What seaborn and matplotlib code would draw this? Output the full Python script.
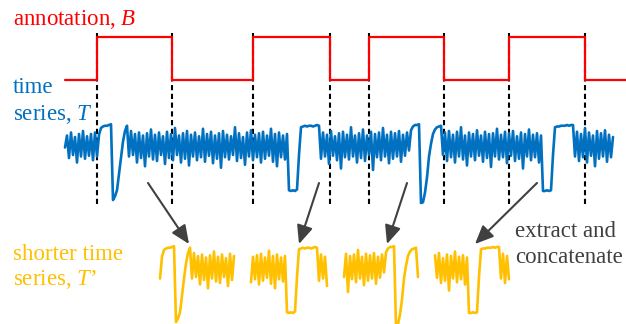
import numpy as np
import pandas as pd
import matplotlib
matplotlib.use('Agg')
import seaborn as sns
from matplotlib import pyplot as plt

sns.set_theme(style='white')
# serif text like the original, italic symbols through mathtext
plt.rcParams['font.family'] = 'serif'
plt.rcParams['font.serif'] = ['Liberation Serif', 'DejaVu Serif']
plt.rcParams['mathtext.fontset'] = 'custom'
plt.rcParams['mathtext.rm'] = 'Liberation Serif'
plt.rcParams['mathtext.it'] = 'Liberation Serif:italic'

# annotation B: change points (sample index) and the level from there on
B_time = [0, 16, 53.5, 94, 132.5, 152, 189.5, 222, 260, 281]
B_level = [0, 1, 0, 1, 0, 1, 0, 1, 0, 0]

# time series T, one value per sample
T_values = [
    70, 86, 56, 90, 60, 84, 50, 88, 58, 92, 55, 85, 59, 88, 53, 90, 58, 87,
    96, 98, 99, 99, 100, 101,
    0, 5, 13, 35, 58, 78, 92, 99,
    58, 92, 60, 88, 50, 90, 56, 86, 45, 89, 58, 94, 54, 87, 52, 90, 60, 85, 48, 91,
    56, 88, 53, 96, 60, 86, 50, 89, 55, 92, 46, 87, 58, 90, 53, 85, 57, 95, 51, 88,
    59, 91, 49, 86, 55, 89, 43, 92, 57, 87, 54, 85, 60, 97, 52, 89, 56, 84, 47, 90,
    58, 93, 53, 87, 57, 89, 50, 91, 55, 86, 59, 95, 51, 88, 45, 90, 57, 86, 54, 88,
    13, 12, 13, 12, 14,
    60, 97,
    98, 99, 98, 99, 99, 98, 99, 100, 99,
    55, 90, 58, 87, 48, 92, 59, 85, 53, 89, 42, 91, 57, 87, 54, 97, 58, 86, 50, 89,
    56, 94, 52, 86, 60, 91, 40, 88, 57, 90, 53, 96, 58, 87, 49, 91, 55, 89, 58, 92,
    51, 87, 59, 90, 66, 93,
    98, 100, 100, 101,
    -4, -3,
    10, 30, 58, 75, 88, 94, 97, 98, 99,
    60, 90, 52, 92, 57, 87, 50, 91, 58, 97, 54, 86, 46, 90, 58, 88, 53, 93, 59, 86,
    51, 91, 56, 88, 44, 89, 58, 95, 54, 87, 57, 91, 49, 89, 59, 92, 52, 85, 55, 90,
    42, 88, 58, 94, 53, 87, 57, 89, 50, 86,
    12, 12, 13, 12, 13,
    60, 97,
    98, 98, 99, 99, 99, 100, 99, 100, 100,
    58, 91, 52, 88, 57, 96, 50, 90, 59, 86, 45, 92, 55, 89, 58, 93, 51, 87, 57, 84,
]

gap = 7.5  # samples left empty between the extracted pieces of T'

red = '#FF0000'
blue = '#0070C0'
gold = '#FFC000'
grey = '#404040'

W, H = 626, 324


def lims(v0, p0, v1, p1, size, flip=False):
    # axis limits so that value v0 lands on pixel p0 and v1 on pixel p1
    k = (v1 - v0) / (p1 - p0)
    a, b = v0 + k * (0 - p0), v0 + k * (size - p0)
    return (b, a) if flip else (a, b)


def fig_xy(x, y):
    return x / W, 1 - y / H


fig = plt.figure(figsize=(W / 100, H / 100), dpi=100)
ax_T = fig.add_axes([0, 0, 1, 1])
ax_B = fig.add_axes([0, 0, 1, 1], sharex=ax_T)
ax_P = fig.add_axes([0, 0, 1, 1])

T = pd.DataFrame({'t': np.arange(len(T_values)), 'T': T_values})

# dashed guides at every change of B
for t in B_time[1:-1]:
    ax_T.axvline(t, ymin=1 - 204 / H, ymax=1 - 33 / H, color='black',
                 lw=1.5, ls=(0, (2.5, 1.7)), zorder=1)

sns.lineplot(data=T, x='t', y='T', ax=ax_T, color=blue, lw=1.9, zorder=2)
sns.lineplot(x=B_time, y=B_level, ax=ax_B, color=red, lw=1.6,
             drawstyle='steps-post')

# T': pieces of T where B is 1, put one after the other
start = 0
for on, off, lev in zip(B_time[:-1], B_time[1:], B_level[:-1]):
    if lev != 1:
        continue
    piece = T[(T['t'] >= on) & (T['t'] < off)]
    tp = start + np.arange(len(piece))
    sns.lineplot(x=tp, y=piece['T'].values, ax=ax_P, color=gold, lw=1.9)
    start += len(piece) + gap

ax_T.set_xlim(lims(0, 65, 1, 67, W))
ax_T.set_ylim(lims(100, 125, 0, 200, H, flip=True))
ax_B.set_ylim(lims(0, 80, 1, 37, H, flip=True))
ax_P.set_xlim(lims(0, 160, 1, 162, W))
ax_P.set_ylim(lims(100, 247, 0, 322, H, flip=True))
for ax in (ax_T, ax_B, ax_P):
    ax.axis('off')
    ax.patch.set_alpha(0)

txt = dict(fontsize=16.5, family='Liberation Serif')
fig.text(*fig_xy(13, 25), 'annotation, $B$', color=red, **txt)
fig.text(*fig_xy(13, 93), 'time', color=blue, **txt)
fig.text(*fig_xy(13, 120), 'series, $T$', color=blue, **txt)
fig.text(*fig_xy(13, 260), 'shorter time', color=gold, **txt)
fig.text(*fig_xy(13, 285), 'series, $T$\u2019', color=gold, **txt)
fig.text(*fig_xy(515, 237), 'extract and', color=grey, **txt)
fig.text(*fig_xy(515, 263), 'concatenate', color=grey, **txt)

# arrows from T down to the pieces of T'
arrows = [((148, 183), (189, 244)), ((319, 183), (299, 244)),
          ((407, 183), (387, 244)), ((537, 183), (475, 244))]
for a, b in arrows:
    ax_T.annotate('', xy=fig_xy(*b), xytext=fig_xy(*a),
                  xycoords='figure fraction', textcoords='figure fraction',
                  arrowprops=dict(arrowstyle='-|>,head_length=0.8,head_width=0.35',
                                  color=grey, lw=1.5, shrinkA=0, shrinkB=0,
                                  mutation_scale=14))

fig.savefig('out.png', dpi=100)
